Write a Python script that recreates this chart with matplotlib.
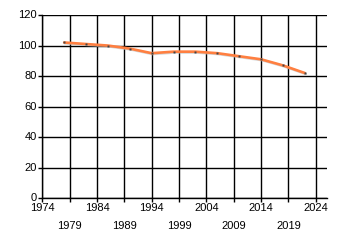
import matplotlib
matplotlib.use("Agg")
import matplotlib.pyplot as plt
import matplotlib.patheffects as pe
from matplotlib.transforms import ScaledTranslation

years = [1978, 1982, 1986, 1990, 1994, 1998, 2002, 2006, 2010, 2014, 2018, 2022]
values = [102, 101, 100, 98, 95, 96, 96, 95, 93, 91, 87, 82]
major_ticks = [1974, 1984, 1994, 2004, 2014, 2024]
minor_ticks = [1979, 1989, 1999, 2009, 2019]
y_ticks = [0, 20, 40, 60, 80, 100, 120]

plt.rcParams['font.family'] = ['Liberation Sans', 'DejaVu Sans']
fig = plt.figure(figsize=(3.4, 2.45), dpi=100)
ax = fig.add_axes([42.3/340, 1-198.3/245, (326.7-42.3)/340, (198.3-15)/245])

ax.plot(years, values, color='#FF7F40', lw=1.9, solid_capstyle='round', zorder=3,
        path_effects=[pe.SimpleLineShadow(offset=(0.6, -0.6), shadow_color='#bbbbbb', alpha=0.6), pe.Normal()])
ax.plot(years, values, ls='none', marker='s', ms=1.6, color='#444444', mec='none', zorder=4)

ax.set_xlim(1974, 2026)
ax.set_ylim(0, 120)
ax.set_yticks(y_ticks)
ax.set_yticklabels([str(v) for v in y_ticks])
ax.set_xticks(major_ticks)
ax.set_xticklabels([str(v) for v in major_ticks])
ax.set_xticks(minor_ticks, minor=True)
ax.set_xticklabels([str(v) for v in minor_ticks], minor=True)

ax.tick_params(axis='both', which='both', length=3, width=1, color='black',
               labelsize=8, labelcolor='black', direction='out')
ax.tick_params(axis='x', which='major', pad=0.5)
ax.tick_params(axis='x', which='minor', pad=13)
ax.tick_params(axis='y', pad=1)

shift = ScaledTranslation(0, 1.0/100, fig.dpi_scale_trans)
for lab in ax.get_yticklabels():
    lab.set_transform(lab.get_transform() + shift)

ax.grid(True, which='both', color='black', lw=1)
ax.set_axisbelow(True)
for s in ['top', 'right']:
    ax.spines[s].set_visible(False)
for s in ['left', 'bottom']:
    ax.spines[s].set_linewidth(1)
    ax.spines[s].set_color('black')

fig.savefig('out.png', dpi=100)
